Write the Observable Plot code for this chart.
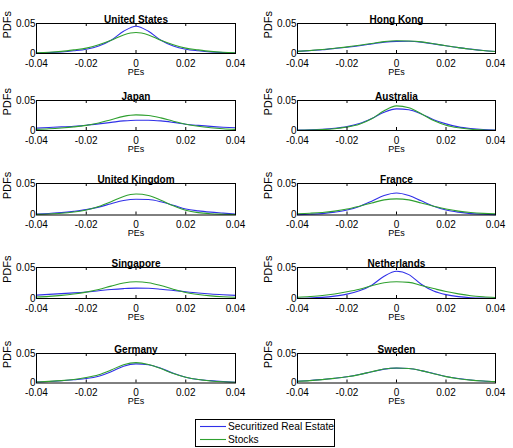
<!DOCTYPE html>
<html><head><meta charset="utf-8">
<script src="https://cdn.jsdelivr.net/npm/d3@7"></script>
<script src="https://cdn.jsdelivr.net/npm/@observablehq/plot@0.6"></script>
<style>
body{margin:0;background:#fff;}
#root{position:relative;width:513px;height:448px;overflow:hidden;font-family:"Liberation Sans",Arial,Helvetica,sans-serif;background:#fff;}
.panel{position:absolute;}
.panel svg{overflow:visible;}
#legend{position:absolute;}
</style></head><body><div id="root"></div>
<script>
// ---------- data ----------
const peGrid = [-0.04,-0.035,-0.03,-0.025,-0.02,-0.015,-0.01,-0.005,0,0.005,0.01,0.015,0.02,0.025,0.03,0.035,0.04];
const xTicks = [-0.04,-0.02,0,0.02,0.04];
const yTicks = [0,0.05];
const seriesNames = ["Securitized Real Estate","Stocks"];
const countries = ["United States","Hong Kong","Japan","Australia","United Kingdom","France","Singapore","Netherlands","Germany","Sweden"];

const usRE     = [0.0008,0.0014,0.0025,0.0045,0.0072,0.0125,0.022,0.037,0.0455,0.037,0.022,0.0125,0.0072,0.0045,0.0025,0.0014,0.0008];
const usStocks = [0.0012,0.002,0.0035,0.006,0.009,0.0145,0.022,0.031,0.035,0.031,0.022,0.0145,0.009,0.006,0.0035,0.002,0.0012];
const hkRE     = [0.0035,0.0048,0.0063,0.0083,0.0105,0.013,0.016,0.019,0.0202,0.0203,0.019,0.016,0.0128,0.0098,0.0073,0.005,0.0033];
const hkStocks = [0.0036,0.005,0.0066,0.0088,0.011,0.0138,0.0168,0.0198,0.0212,0.0208,0.0193,0.0163,0.013,0.0098,0.0072,0.005,0.0033];
const jpRE     = [0.004,0.005,0.006,0.0072,0.0088,0.011,0.0135,0.016,0.0172,0.0172,0.016,0.0135,0.0105,0.0085,0.0068,0.0055,0.0045];
const jpStocks = [0.0018,0.0028,0.0042,0.006,0.0085,0.0125,0.018,0.0235,0.026,0.025,0.021,0.0155,0.0105,0.007,0.0045,0.0028,0.0018];
const auRE     = [0.0008,0.0013,0.0022,0.0038,0.0065,0.0115,0.02,0.0305,0.036,0.0345,0.0275,0.018,0.011,0.006,0.0033,0.0017,0.0009];
const auStocks = [0.0004,0.0008,0.0015,0.003,0.0058,0.0105,0.0195,0.033,0.041,0.038,0.028,0.0165,0.0088,0.0045,0.002,0.0009,0.0004];
const ukRE     = [0.0016,0.0025,0.0037,0.0058,0.0085,0.0125,0.018,0.023,0.025,0.0245,0.021,0.0155,0.0095,0.0065,0.0045,0.003,0.0015];
const ukStocks = [0.001,0.0016,0.0027,0.0048,0.008,0.0135,0.021,0.0295,0.0333,0.031,0.0235,0.0145,0.0075,0.0038,0.002,0.0012,0.0007];
const frRE     = [0.0006,0.0012,0.0022,0.0045,0.0078,0.0135,0.022,0.031,0.035,0.031,0.0225,0.014,0.008,0.0045,0.0022,0.0012,0.0006];
const frStocks = [0.002,0.0028,0.004,0.0062,0.0094,0.014,0.019,0.024,0.0256,0.024,0.019,0.014,0.0095,0.0062,0.004,0.0026,0.0018];
const sgRE     = [0.0055,0.0066,0.0078,0.009,0.0105,0.0125,0.0145,0.016,0.0168,0.0165,0.015,0.013,0.0108,0.0088,0.0072,0.006,0.005];
const sgStocks = [0.0025,0.0035,0.005,0.0072,0.0103,0.0145,0.02,0.025,0.0269,0.0255,0.021,0.015,0.0098,0.0065,0.0042,0.0028,0.002];
const nlRE     = [0.0004,0.0008,0.0018,0.0038,0.007,0.0125,0.0215,0.036,0.044,0.0385,0.023,0.012,0.0062,0.003,0.0013,0.0006,0.0003];
const nlStocks = [0.002,0.0032,0.0048,0.0073,0.0108,0.015,0.0205,0.0255,0.0269,0.026,0.021,0.016,0.0112,0.0075,0.0045,0.0027,0.0015];
const deRE     = [0.0017,0.0025,0.0038,0.0055,0.0075,0.0115,0.019,0.0285,0.0325,0.031,0.025,0.0165,0.0098,0.006,0.004,0.0025,0.0013];
const deStocks = [0.0018,0.0027,0.004,0.006,0.0092,0.014,0.022,0.031,0.0345,0.0315,0.0245,0.016,0.0098,0.0058,0.0035,0.002,0.0012];
const seRE     = [0.003,0.0042,0.006,0.008,0.0106,0.0143,0.019,0.0235,0.0252,0.0245,0.021,0.016,0.011,0.0075,0.005,0.0035,0.0025];
const seStocks = [0.0029,0.0041,0.0058,0.0079,0.0105,0.0142,0.0192,0.0238,0.0255,0.0247,0.021,0.0158,0.0108,0.0073,0.0048,0.0033,0.0024];

const reSeries = [usRE,hkRE,jpRE,auRE,ukRE,frRE,sgRE,nlRE,deRE,seRE];
const stSeries = [usStocks,hkStocks,jpStocks,auStocks,ukStocks,frStocks,sgStocks,nlStocks,deStocks,seStocks];

// ---------- style / layout ----------
const FONT = '"Liberation Sans", Arial, Helvetica, sans-serif';
const COLORS = ["#3030e8", "#2fa02f"];
const colLeft = [0, 256], colWidth = [256, 257];
const mLeft = [36, 41], mRight = [21, 18];
const rowTop = [23, 100, 182.5, 267, 353];
const rowH = [30, 30, 31.5, 31, 29.5];
const MT = 20, MB = 28;
const titleSpacing = {"United States": 0.7, "Sweden": 1};
const fmt = d => d === 0 ? "0" : d.toFixed(2);

const root = document.getElementById("root");

countries.forEach((country, i) => {
  const row = Math.floor(i / 2), col = i % 2;
  const h = rowH[row];
  const data = peGrid.flatMap((pe, j) => [
    {pe, pdf: reSeries[i][j], s: seriesNames[0]},
    {pe, pdf: stSeries[i][j], s: seriesNames[1]}
  ]);
  const chart = Plot.plot({
    width: colWidth[col],
    height: MT + h + MB,
    marginTop: MT, marginBottom: MB,
    marginLeft: mLeft[col], marginRight: mRight[col],
    style: {fontFamily: FONT, fontSize: "10px", background: "transparent", color: "#000"},
    x: {domain: [-0.04, 0.04]},
    y: {domain: [0, 0.05]},
    color: {domain: seriesNames, range: COLORS},
    marks: [
      Plot.lineY(data, {x: "pe", y: "pdf", z: "s", stroke: "s", strokeWidth: 1.1, curve: "monotone-x"}),
      Plot.frame({stroke: "#000", strokeWidth: 1}),
      Plot.ruleX(xTicks, {insetTop: h - 3, stroke: "#000"}),
      Plot.ruleX(xTicks, {insetBottom: h - 3, stroke: "#000"}),
      Plot.axisX(xTicks, {tickSize: 0, tickPadding: 6, tickFormat: fmt, label: null, fontSize: 10}),
      Plot.axisY(yTicks, {tickSize: 0, tickPadding: 1, tickFormat: fmt, label: null, fontSize: 10}),
      Plot.text([country], {frameAnchor: "top", dy: -7.5, fontWeight: "bold", fontSize: 10,
        letterSpacing: (titleSpacing[country] || 0) + "px"}),
      Plot.text(["PEs"], {frameAnchor: "bottom", dy: 21, fontSize: 9}),
      Plot.text(["PDFs"], {frameAnchor: "left", dx: -29, rotate: -90, fontSize: 11})
    ]
  });
  const div = document.createElement("div");
  div.className = "panel";
  div.style.left = colLeft[col] + "px";
  div.style.top = (rowTop[row] - MT) + "px";
  div.appendChild(chart);
  root.appendChild(div);
});

// ---------- legend ----------
const lg = d3.create("svg").attr("width", 140).attr("height", 28)
  .style("font-family", FONT).style("overflow", "visible");
lg.append("rect").attr("x", 0.5).attr("y", 0.5).attr("width", 139).attr("height", 27)
  .attr("fill", "#fff").attr("stroke", "#000").attr("stroke-width", 1);
seriesNames.forEach((name, k) => {
  const y = 7 + k * 13;
  lg.append("line").attr("x1", 5).attr("x2", 31).attr("y1", y + 0.5).attr("y2", y + 0.5)
    .attr("stroke", COLORS[k]).attr("stroke-width", 1.1);
  lg.append("text").attr("x", 33).attr("y", y).attr("dy", "0.35em")
    .attr("font-size", "10.2px").attr("fill", "#000").text(name);
});
const ldiv = document.createElement("div");
ldiv.id = "legend";
ldiv.style.left = "195px";
ldiv.style.top = "419px";
ldiv.appendChild(lg.node());
root.appendChild(ldiv);
</script>
</body></html>
